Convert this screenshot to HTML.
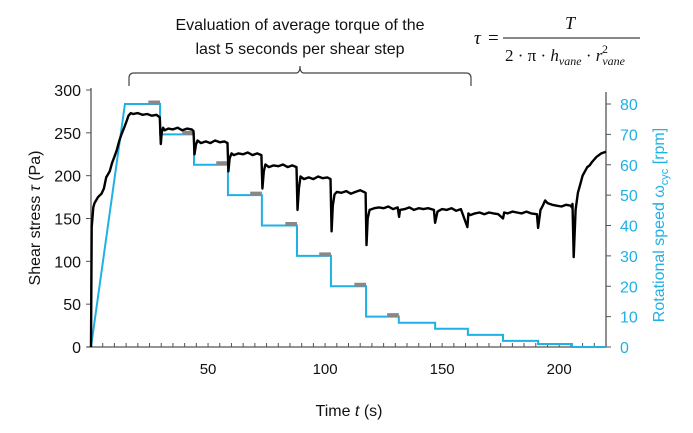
<!DOCTYPE html>
<html><head><meta charset="utf-8">
<style>
html,body{margin:0;padding:0;background:#fff;}
svg{display:block;font-family:"Liberation Sans",Arial,sans-serif;}
</style></head>
<body>
<svg id="chart" width="693" height="433" viewBox="0 0 693 433" xmlns="http://www.w3.org/2000/svg">
  <g>
    <text x="300" y="30" font-size="16" text-anchor="middle" fill="#111">Evaluation of average torque of the</text>
    <text x="300" y="54" font-size="16" text-anchor="middle" fill="#111">last 5 seconds per shear step</text>
    <path d="M129,86 L129,78 Q129,73 134,73 L296,73 Q300,73 300,66 Q300,73 304,73 L466,73 Q471,73 471,78 L471,86" fill="none" stroke="#444" stroke-width="1.2"/>
  </g>
  <g font-family="'Liberation Serif',serif" fill="#111">
    <text x="474" y="44" font-size="19" font-style="italic">τ</text>
    <text x="488" y="44" font-size="19">=</text>
    <text x="570" y="29" font-size="18" font-style="italic" text-anchor="middle">T</text>
    <line x1="503" y1="38" x2="640" y2="38" stroke="#111" stroke-width="1"/>
    <text x="505" y="61" font-size="17">2 · π · <tspan font-style="italic">h</tspan><tspan font-size="12" font-style="italic" dy="4">vane</tspan><tspan dy="-4"> · </tspan><tspan font-style="italic">r</tspan><tspan font-size="12" font-style="italic" dy="4">vane</tspan></text>
    <text x="602" y="53" font-size="12">2</text>
  </g>
  <g id="plot"></g>
  <text x="349" y="416" font-size="16" text-anchor="middle" fill="#111">Time <tspan font-style="italic">t</tspan> (s)</text>
  <text transform="translate(40,218) rotate(-90)" font-size="16" text-anchor="middle" fill="#111">Shear stress <tspan font-style="italic">τ</tspan> (Pa)</text>
  <text transform="translate(664,225) rotate(-90)" font-size="16" text-anchor="middle" fill="#1fb1e6">Rotational speed ω<tspan font-size="11" dy="4">cyc</tspan><tspan dy="-4"> [rpm]</tspan></text>
</svg>
<script>
// Data arrays
const xTicks = [50, 100, 150, 200];
const yLeftTicks = [0, 50, 100, 150, 200, 250, 300];
const yRightTicks = [0, 10, 20, 30, 40, 50, 60, 70, 80];
// Rotational speed profile (t, rpm)
const speedTimes = [0, 14.5, 29.5, 44, 58.5, 73, 88, 102.5, 117.5, 131.5, 147, 161, 176, 191, 205.5, 220];
const speedValues = [0, 80, 70, 60, 50, 40, 30, 20, 10, 8, 6, 4, 2, 1, 0, 0];
// Averaging windows (end of step time, rpm)
const avgEnds = [29.5, 44, 58.5, 73, 88, 102.5, 117.5, 131.5];
const avgValues = [80, 70, 60, 50, 40, 30, 20, 10];
// Shear stress trace (t, Pa)
const stressTimes = [0,0.3,1,1.5,3,4.5,5.5,6.5,8,9,10,11,12,13,14,15,16,17,18,20,22,24,26,28,29.4,29.8,30.2,30.8,31.5,33,35,37,39,41,43,43.8,44.2,44.8,45.5,47,49,51,53,55,57,58.3,58.7,59.2,60,61,63,65,67,69,71,72.8,73.2,73.8,74.5,76,78,80,82,84,86,87.8,88.2,88.8,89.5,91,93,95,97,99,101,102.3,102.8,103.3,104,105,107,109,111,113,115,117.3,117.7,118.2,119,121,123,125,127,129,131,131.6,132,134,136,138,140,142,144,146.5,147,148,150,152,154,156,158,160.8,161.2,162,164,166,168,170,172,174,176,176.5,178,180,182,184,186,188,190.5,191,192,193,194,195,197,199,201,203,205,205.4,205.7,206.2,207,208,209,210,211,212,213,214,216,218,220];
const stressValues = [0,140,163,168,175,179,185,198,205,215,222,230,240,248,255,262,270,273,272,273,271,272,270,271,268,237,250,256,253,255,254,256,253,255,254,252,225,236,241,238,240,238,241,239,240,238,205,220,226,224,226,225,227,224,226,224,185,205,213,210,212,211,213,210,212,210,160,185,199,196,198,196,199,197,198,196,135,165,178,181,180,182,179,181,183,180,119,150,160,162,163,162,164,161,163,152,160,161,163,160,162,161,162,160,145,158,161,160,162,159,161,140,156,154,156,157,155,157,156,155,150,157,156,158,157,156,158,156,155,139,160,165,171,168,166,165,164,166,165,163,167,105,160,180,190,200,205,210,212,216,222,226,228,227,228,227];

const svgNS = "http://www.w3.org/2000/svg";
const X0 = 91, X1 = 606, T_MAX = 220;
const Y0 = 347, YL_TOP = 90, YR_TOP = 104;
function xs(t){ return X0 + (X1 - X0) * t / T_MAX; }
function yl(v){ return Y0 - (Y0 - YL_TOP) * v / 300; }
function yr(v){ return Y0 - (Y0 - YR_TOP) * v / 80; }
const plot = document.getElementById('plot');
function mk(tag, attrs){ const e = document.createElementNS(svgNS, tag); for (const k in attrs) e.setAttribute(k, attrs[k]); plot.appendChild(e); return e; }

// Axes
let ax = mk('line', {x1:X0, y1:YL_TOP-2, x2:X0, y2:Y0, stroke:'#555', 'stroke-width':1.3});


ax = mk('line', {x1:X1, y1:YR_TOP-12, x2:X1, y2:Y0, stroke:'#555', 'stroke-width':1.3});


ax = mk('line', {x1:X0-4, y1:Y0, x2:X1, y2:Y0, stroke:'#555', 'stroke-width':1.3});



for (let t = 5; t <= T_MAX; t += 5) {
  const tk = mk('line', {x1:xs(t), y1:Y0-4, x2:xs(t), y2:Y0, stroke:'#555', 'stroke-width':1});
  
  
}
xTicks.forEach(v => {
  const tx = mk('text', {x:xs(v), y:374, 'font-size':15, 'text-anchor':'middle', fill:'#111'});
  tx.textContent = v;
  
  
});
yLeftTicks.forEach(v => {
  const tk = mk('line', {x1:X0-5, y1:yl(v), x2:X0, y2:yl(v), stroke:'#555'});
  
  
  const tx = mk('text', {x:X0-10, y:yl(v)+6, 'font-size':16, 'text-anchor':'end', fill:'#111'});
  tx.textContent = v;
  
  
});
yRightTicks.forEach(v => {
  const tk = mk('line', {x1:X1, y1:yr(v), x2:X1+5, y2:yr(v), stroke:'#555'});
  
  
  const tx = mk('text', {x:X1+14, y:yr(v)+6, 'font-size':16, 'text-anchor':'start', fill:'#1fb1e6'});
  tx.textContent = v;
  
  
});

// Speed step line
let d = 'M' + xs(speedTimes[0]) + ',' + yr(speedValues[0]) + ' L' + xs(speedTimes[1]) + ',' + yr(speedValues[1]);
for (let i = 2; i < speedTimes.length; i++) {
  d += ' L' + xs(speedTimes[i]) + ',' + yr(speedValues[i-1]) + ' L' + xs(speedTimes[i]) + ',' + yr(speedValues[i]);
}
const sp = mk('path', {d:d, fill:'none', stroke:'#1fb1e6', 'stroke-width':2});



// Averaging window markers
avgEnds.forEach((t, i) => {
  const m = mk('line', {x1:xs(t-5), y1:yr(avgValues[i])-1.5, x2:xs(t), y2:yr(avgValues[i])-1.5, stroke:'#888', 'stroke-width':4});
  
  
});

// Stress trace
let sd = '';
stressTimes.forEach((t, i) => { sd += (i ? ' L' : 'M') + xs(t).toFixed(1) + ',' + yl(stressValues[i]).toFixed(1); });
const st = mk('path', {d:sd, fill:'none', stroke:'#000', 'stroke-width':2.4, 'stroke-linejoin':'round'});


</script>
</body></html>
